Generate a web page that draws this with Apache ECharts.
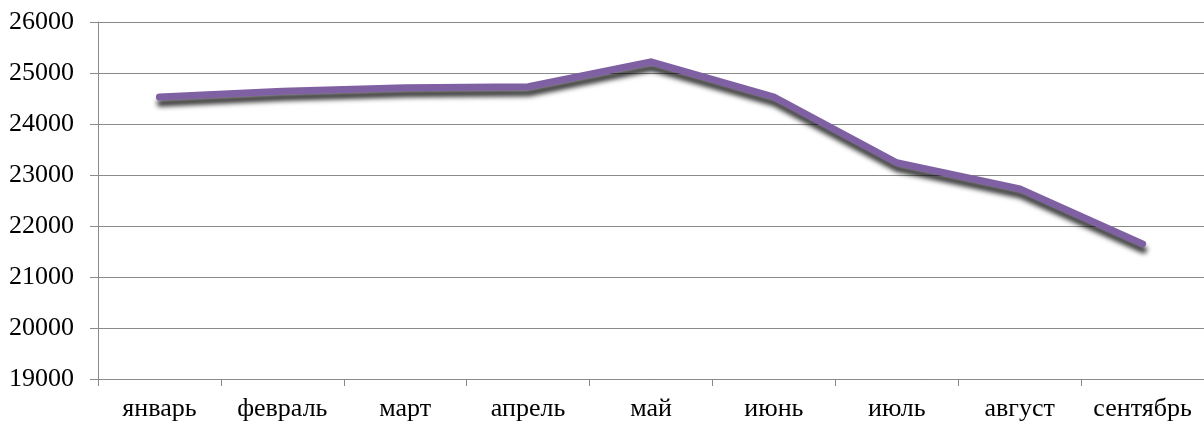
<!DOCTYPE html>
<html>
<head>
<meta charset="utf-8">
<script src="https://cdn.jsdelivr.net/npm/echarts@6/dist/echarts.min.js"></script>
<style>
  html, body { margin: 0; padding: 0; background: #ffffff; }
  #chart { width: 1204px; height: 425px; }
</style>
</head>
<body>
<div id="chart"></div>
<script>
// Months on the category axis
const months = ['январь', 'февраль', 'март', 'апрель', 'май', 'июнь', 'июль', 'август', 'сентябрь'];
// Monthly values
const values = [24530, 24640, 24710, 24730, 25220, 24530, 23240, 22730, 21650];
// Value axis range
const yMin = 19000;
const yMax = 26000;
const yStep = 1000;

const chart = echarts.init(document.getElementById('chart'), null, { renderer: 'canvas' });

const axisGray = '#8a8a8a';
const labelFont = {
  fontFamily: '"Liberation Serif", "Times New Roman", serif',
  fontSize: 26,
  color: '#000000'
};

chart.setOption({
  animation: false,
  backgroundColor: '#ffffff',
  grid: { left: 98, right: -7, top: 22, bottom: 46, containLabel: false },
  xAxis: {
    type: 'category',
    data: months,
    boundaryGap: true,
    axisLine: { show: true, lineStyle: { color: axisGray, width: 1 } },
    axisTick: { show: true, length: 7, lineStyle: { color: axisGray } },
    axisLabel: Object.assign({ margin: 17, interval: 0 }, labelFont),
    splitLine: { show: false }
  },
  yAxis: {
    type: 'value',
    min: yMin,
    max: yMax,
    interval: yStep,
    axisLine: { show: true, lineStyle: { color: axisGray, width: 1 } },
    axisTick: { show: true, length: 8, lineStyle: { color: axisGray } },
    axisLabel: Object.assign({ margin: 24, formatter: v => String(v) }, labelFont),
    splitLine: { show: true, lineStyle: { color: axisGray, width: 1.2 } }
  },
  series: [{
    type: 'line',
    data: values,
    symbol: 'none',
    lineStyle: {
      color: '#7f60a2',
      width: 7,
      cap: 'round',
      join: 'miter',
      shadowColor: 'rgba(0,0,0,0.8)',
      shadowBlur: 5,
      shadowOffsetX: 1,
      shadowOffsetY: 6
    }
  }]
});
</script>
</body>
</html>
